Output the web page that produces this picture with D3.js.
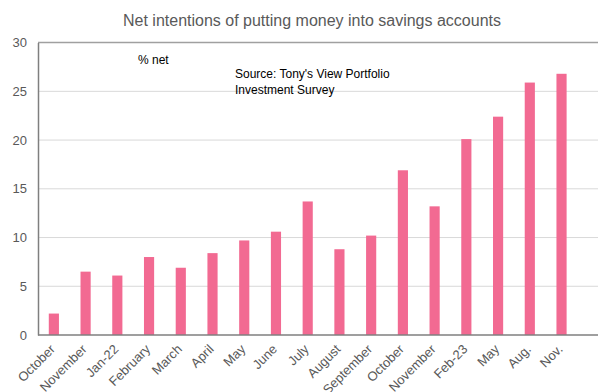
<!DOCTYPE html>
<html>
<head>
<meta charset="utf-8">
<script src="https://cdn.jsdelivr.net/npm/d3@7"></script>
<style>
  html, body { margin: 0; padding: 0; background: #fff; }
  svg { display: block; font-family: "Liberation Sans", Arial, sans-serif; }
</style>
</head>
<body>
<svg id="chart" width="598" height="392"></svg>
<script>
// Survey periods and net share of respondents intending to put money into savings
const categories = ["October", "November", "Jan-22", "February", "March", "April", "May", "June",
  "July", "August", "September", "October", "November", "Feb-23", "May", "Aug.", "Nov."];
const netValues = [2.2, 6.5, 6.1, 8.0, 6.9, 8.4, 9.7, 10.6, 13.7, 8.8, 10.2, 16.9, 13.2, 20.1, 22.4, 25.9, 26.8];
const yTicks = [0, 5, 10, 15, 20, 25, 30];

const svg = d3.select("#chart");
const W = 598;
const plot = { left: 38, right: 577.4, top: 42.6, bottom: 335 };

// index-based band so repeated month names stay separate
const x = d3.scaleBand()
  .domain(d3.range(categories.length))
  .range([plot.left, plot.right])
  .paddingInner(0.68)
  .paddingOuter(0.34);

const y = d3.scaleLinear().domain([0, 30]).range([plot.bottom, plot.top]);

// horizontal gridlines
svg.append("g")
  .selectAll("line")
  .data(yTicks.filter(t => t > 0 && t < 30))
  .join("line")
  .attr("x1", plot.left).attr("x2", W)
  .attr("y1", d => y(d)).attr("y2", d => y(d))
  .attr("stroke", "#d9d9d9").attr("stroke-width", 1);

// top border
svg.append("line")
  .attr("x1", plot.left).attr("x2", W)
  .attr("y1", y(30)).attr("y2", y(30))
  .attr("stroke", "#a0a0a0").attr("stroke-width", 1.5);

// bars
svg.append("g")
  .selectAll("rect")
  .data(netValues)
  .join("rect")
  .attr("x", (d, i) => x(i))
  .attr("width", x.bandwidth())
  .attr("y", d => y(d))
  .attr("height", d => y(0) - y(d))
  .attr("fill", "#f26a92");

// y axis
const yAxis = svg.append("g")
  .attr("transform", `translate(${plot.left},0)`)
  .call(d3.axisLeft(y).tickValues(yTicks).tickSize(0).tickPadding(11));
yAxis.select(".domain").attr("stroke", "#7f7f7f").attr("stroke-width", 1.5);
yAxis.selectAll("text")
  .attr("font-size", 13)
  .attr("fill", "#595959")
  .attr("font-family", "Liberation Sans, Arial, sans-serif");

// x axis
const xAxis = svg.append("g")
  .attr("transform", `translate(0,${plot.bottom})`)
  .call(d3.axisBottom(x).tickFormat(i => categories[i]).tickSize(0));
xAxis.select(".domain")
  .attr("d", `M${plot.left},0H${W}`)
  .attr("stroke", "#7f7f7f").attr("stroke-width", 1.5);
xAxis.selectAll("text")
  .attr("font-size", 13)
  .attr("fill", "#595959")
  .attr("font-family", "Liberation Sans, Arial, sans-serif")
  .attr("text-anchor", "end")
  .attr("dy", null)
  .attr("y", 0)
  .attr("transform", "translate(2,15) rotate(-45)");

// title
svg.append("text")
  .attr("x", 312).attr("y", 26)
  .attr("text-anchor", "middle")
  .attr("font-size", 16)
  .attr("fill", "#595959")
  .text("Net intentions of putting money into savings accounts");

// annotations
svg.append("text")
  .attr("x", 138).attr("y", 64)
  .attr("font-size", 12)
  .attr("fill", "#000")
  .text("% net");

const src = svg.append("text")
  .attr("font-size", 12)
  .attr("fill", "#000");
src.append("tspan").attr("x", 235).attr("y", 78).text("Source: Tony's View Portfolio");
src.append("tspan").attr("x", 235).attr("y", 94).text("Investment Survey");
</script>
</body>
</html>
